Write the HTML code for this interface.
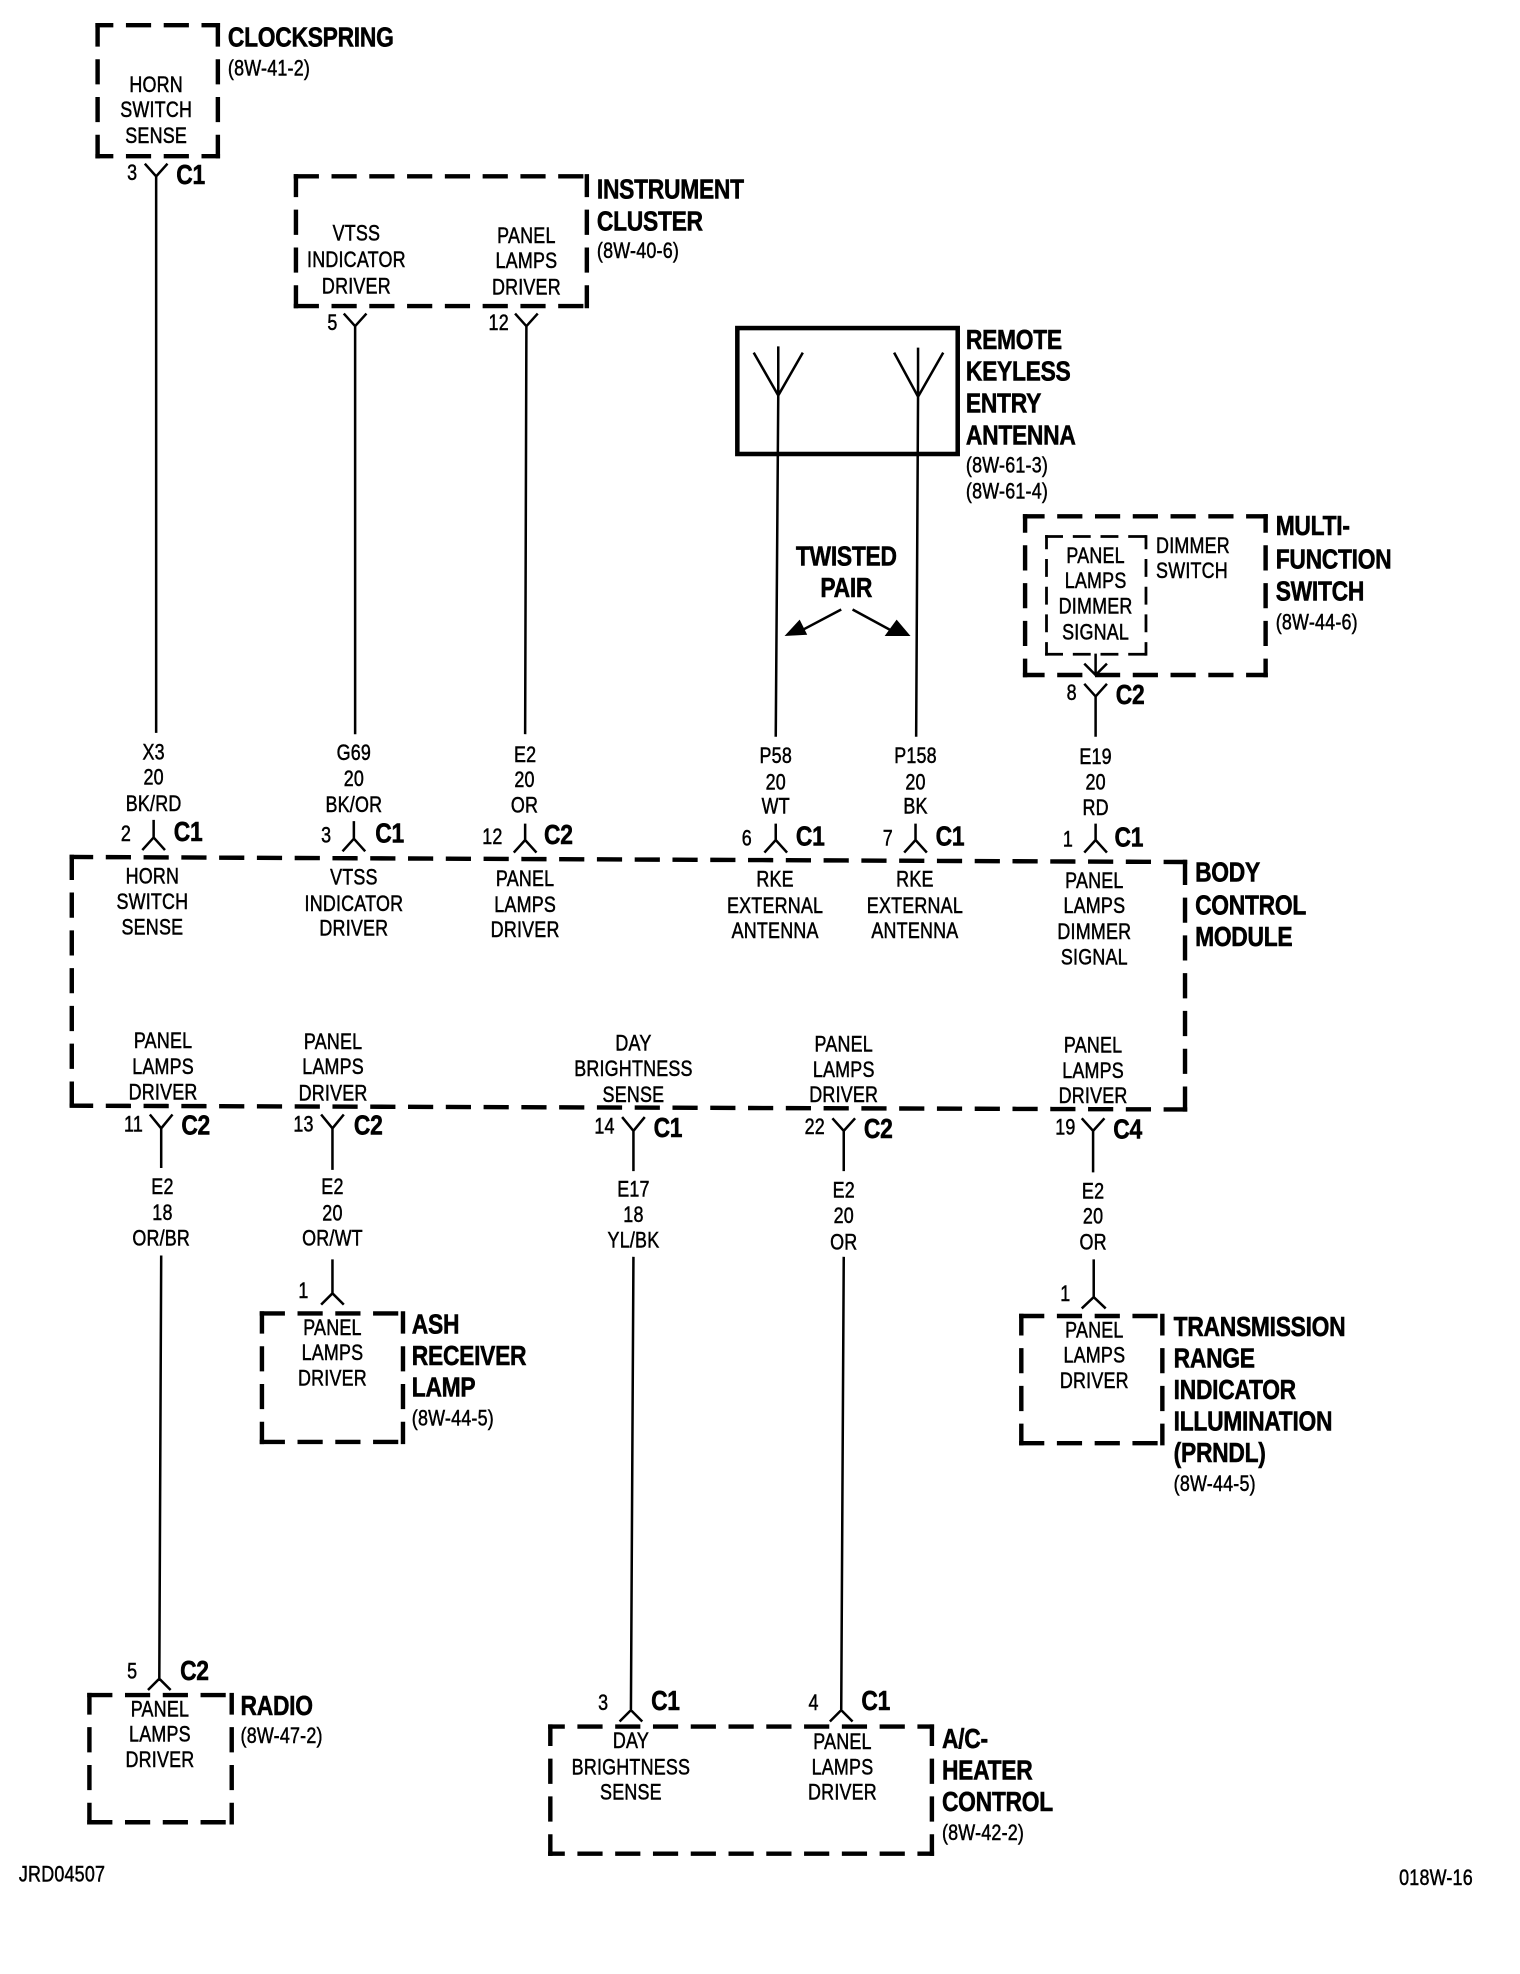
<!DOCTYPE html>
<html><head><meta charset="utf-8"><style>
html,body{margin:0;padding:0;background:#fff}
svg{display:block}
text{font-family:"Liberation Sans",sans-serif;fill:#000}
.r text{font-size:17.8px;stroke:#000;stroke-width:.4;letter-spacing:.2px}
.b text{font-size:22.4px;font-weight:bold;stroke:#000;stroke-width:.45;letter-spacing:-.28px}
.m text{text-anchor:middle}
.w{fill:none;stroke:#000;stroke-width:2}
.d{fill:none;stroke:#000;stroke-width:3.5;stroke-linecap:square;stroke-dasharray:16.5 13.5}
.i{fill:none;stroke:#000;stroke-width:2.2;stroke-linecap:square;stroke-dasharray:12 10}
</style></head><body>
<svg xmlns="http://www.w3.org/2000/svg" width="1520" height="1974" viewBox="0 0 1207 1567.5">
<rect width="1207" height="1567.5" fill="#fff"/>
<!-- dashed boxes -->
<path class="d" style="stroke-dashoffset:5.75" d="M77.5 20H173M77.5 124H173"/>
<path class="d" style="stroke-dashoffset:1.25" d="M77.5 20V124M173 20V124"/>
<path class="d" style="stroke-dashoffset:0" d="M235 140H466M235 243H466"/>
<path class="d" style="stroke-dashoffset:1.75" d="M235 140V243M466 140V243"/>
<path class="d" style="stroke-dashoffset:2.75" d="M814 410H1005M814 536H1005"/>
<path class="d" style="stroke-dashoffset:5.25" d="M814 410V536M1005 410V536"/>
<path class="d" style="stroke-dashoffset:1.25" d="M57 680.5L941 684.5M57 878L941 881"/>
<path class="d" style="stroke-dashoffset:0" d="M57 680.5V878M941 684.5V881"/>
<path class="d" style="stroke-dashoffset:0" d="M208 1043H320M208 1145H320"/>
<path class="d" style="stroke-dashoffset:2.25" d="M208 1043V1145M320 1043V1145"/>
<path class="d" style="stroke-dashoffset:0" d="M811 1045H923M811 1146H923"/>
<path class="d" style="stroke-dashoffset:2.75" d="M811 1045V1146M923 1045V1146"/>
<path class="d" style="stroke-dashoffset:0" d="M71 1346H184M71 1447H184"/>
<path class="d" style="stroke-dashoffset:2.75" d="M71 1346V1447M184 1346V1447"/>
<path class="d" style="stroke-dashoffset:6.75" d="M437 1371H740M437 1472H740"/>
<path class="d" style="stroke-dashoffset:2.75" d="M437 1371V1472M740 1371V1472"/>
<path class="i" style="stroke-dashoffset:0" d="M831 426H910M831 519.5H910"/>
<path class="i" style="stroke-dashoffset:3" d="M831 426V519.5M910 426V519.5"/>
<rect x="585.5" y="260.5" width="175" height="100" fill="none" stroke="#000" stroke-width="3.6"/>
<!-- wires and connectors -->
<path class="w" d="M115 130L124 140L133 130M124 140V582
M273 249L282 259L291 249M282 259V583
M409 249L418 259L427 249M418 259L417 583
M598.5 280L618 314L637.5 280M618 275V314L616 585
M710 280L729 315L749 280M729 276V315L727.5 585
M861 527L870 536L879 527M870 519V536
M861 543L870 553L879 543M870 553V585
M122 651V666M113 675L122 665L131 675
M281 652V667M272 676L281 666L290 676
M417 654V668M408 677L417 667L426 677
M616 654V668M607 677L616 667L625 677
M727 654V668M718 677L727 667L736 677
M870 654V668M861 677L870 667L879 677
M119 885L128 896L137 885M128 896V927.5
M255 885L264 896L273 885M264 896V929
M494 887L503 898L512 887M503 898V930
M661 888L670 898L679 888M670 898V930
M859 888L868 898L877 888M868 898V931
M128 997L126.5 1334M117.5 1342L126.5 1333L135.5 1342
M264 1000V1028M255 1036L264 1027L273 1036
M868.5 1000V1030M859 1039L868.5 1030L878 1039
M503 998L501 1358M492 1367L501 1358L510 1367
M670 998L668 1358M659 1367L668 1358L677 1367"/>
<!-- twisted pair arrows -->
<path d="M668 484L632 503" class="w"/><path d="M677 484L712 503" class="w"/>
<polygon points="623,505 635,492 641,504"/>
<polygon points="723,505 712,492 702.5,505"/>
<!-- centred regular labels -->
<g class="r m">
<text transform="translate(124 73) scale(.8 1)">HORN</text>
<text transform="translate(124 93) scale(.8 1)">SWITCH</text>
<text transform="translate(124 113.4) scale(.8 1)">SENSE</text>
<text transform="translate(283 191) scale(.8 1)">VTSS</text>
<text transform="translate(283 212) scale(.8 1)">INDICATOR</text>
<text transform="translate(283 233) scale(.8 1)">DRIVER</text>
<text transform="translate(418 193) scale(.8 1)">PANEL</text>
<text transform="translate(418 213) scale(.8 1)">LAMPS</text>
<text transform="translate(418 234) scale(.8 1)">DRIVER</text>
<text transform="translate(870 447) scale(.8 1)">PANEL</text>
<text transform="translate(870 467) scale(.8 1)">LAMPS</text>
<text transform="translate(870 487) scale(.8 1)">DIMMER</text>
<text transform="translate(870 507.7) scale(.8 1)">SIGNAL</text>
<text transform="translate(122 603) scale(.8 1)">X3</text>
<text transform="translate(122 623) scale(.8 1)">20</text>
<text transform="translate(122 644) scale(.8 1)">BK/RD</text>
<text transform="translate(281 603.5) scale(.8 1)">G69</text>
<text transform="translate(281 624) scale(.8 1)">20</text>
<text transform="translate(281 644.6) scale(.8 1)">BK/OR</text>
<text transform="translate(417 605) scale(.8 1)">E2</text>
<text transform="translate(416.5 625) scale(.8 1)">20</text>
<text transform="translate(416.5 645) scale(.8 1)">OR</text>
<text transform="translate(616 606) scale(.8 1)">P58</text>
<text transform="translate(616 627) scale(.8 1)">20</text>
<text transform="translate(616 646) scale(.8 1)">WT</text>
<text transform="translate(727 606) scale(.8 1)">P158</text>
<text transform="translate(727 627) scale(.8 1)">20</text>
<text transform="translate(727 646) scale(.8 1)">BK</text>
<text transform="translate(870 606.5) scale(.8 1)">E19</text>
<text transform="translate(870 627) scale(.8 1)">20</text>
<text transform="translate(870 647) scale(.8 1)">RD</text>
<text transform="translate(121 701.7) scale(.8 1)">HORN</text>
<text transform="translate(121 722) scale(.8 1)">SWITCH</text>
<text transform="translate(121 742) scale(.8 1)">SENSE</text>
<text transform="translate(281 702.5) scale(.8 1)">VTSS</text>
<text transform="translate(281 723.5) scale(.8 1)">INDICATOR</text>
<text transform="translate(281 743) scale(.8 1)">DRIVER</text>
<text transform="translate(417 703.6) scale(.8 1)">PANEL</text>
<text transform="translate(417 724) scale(.8 1)">LAMPS</text>
<text transform="translate(417 744) scale(.8 1)">DRIVER</text>
<text transform="translate(615.5 704) scale(.8 1)">RKE</text>
<text transform="translate(615.5 724.8) scale(.8 1)">EXTERNAL</text>
<text transform="translate(615.5 745) scale(.8 1)">ANTENNA</text>
<text transform="translate(726.5 704) scale(.8 1)">RKE</text>
<text transform="translate(726.5 724.8) scale(.8 1)">EXTERNAL</text>
<text transform="translate(726.5 745) scale(.8 1)">ANTENNA</text>
<text transform="translate(869 705) scale(.8 1)">PANEL</text>
<text transform="translate(869 725) scale(.8 1)">LAMPS</text>
<text transform="translate(869 745.5) scale(.8 1)">DIMMER</text>
<text transform="translate(869 766) scale(.8 1)">SIGNAL</text>
<text transform="translate(129.5 832) scale(.8 1)">PANEL</text>
<text transform="translate(129.5 852.8) scale(.8 1)">LAMPS</text>
<text transform="translate(129.5 873) scale(.8 1)">DRIVER</text>
<text transform="translate(264.5 833) scale(.8 1)">PANEL</text>
<text transform="translate(264.5 853) scale(.8 1)">LAMPS</text>
<text transform="translate(264.5 873.7) scale(.8 1)">DRIVER</text>
<text transform="translate(503 834) scale(.8 1)">DAY</text>
<text transform="translate(503 854.6) scale(.8 1)">BRIGHTNESS</text>
<text transform="translate(503 875) scale(.8 1)">SENSE</text>
<text transform="translate(670 835) scale(.8 1)">PANEL</text>
<text transform="translate(670 855.4) scale(.8 1)">LAMPS</text>
<text transform="translate(670 875) scale(.8 1)">DRIVER</text>
<text transform="translate(868 835.6) scale(.8 1)">PANEL</text>
<text transform="translate(868 856) scale(.8 1)">LAMPS</text>
<text transform="translate(868 876) scale(.8 1)">DRIVER</text>
<text transform="translate(129 948) scale(.8 1)">E2</text>
<text transform="translate(129 968.6) scale(.8 1)">18</text>
<text transform="translate(128 989) scale(.8 1)">OR/BR</text>
<text transform="translate(264 948) scale(.8 1)">E2</text>
<text transform="translate(264 969) scale(.8 1)">20</text>
<text transform="translate(264 989) scale(.8 1)">OR/WT</text>
<text transform="translate(503 950) scale(.8 1)">E17</text>
<text transform="translate(503 970.5) scale(.8 1)">18</text>
<text transform="translate(503 990.5) scale(.8 1)">YL/BK</text>
<text transform="translate(670 951) scale(.8 1)">E2</text>
<text transform="translate(670 971) scale(.8 1)">20</text>
<text transform="translate(670 992) scale(.8 1)">OR</text>
<text transform="translate(868 951.5) scale(.8 1)">E2</text>
<text transform="translate(868 971.5) scale(.8 1)">20</text>
<text transform="translate(868 992) scale(.8 1)">OR</text>
<text transform="translate(264 1060) scale(.8 1)">PANEL</text>
<text transform="translate(264 1080) scale(.8 1)">LAMPS</text>
<text transform="translate(264 1100) scale(.8 1)">DRIVER</text>
<text transform="translate(869 1062) scale(.8 1)">PANEL</text>
<text transform="translate(869 1082) scale(.8 1)">LAMPS</text>
<text transform="translate(869 1102) scale(.8 1)">DRIVER</text>
<text transform="translate(127 1363) scale(.8 1)">PANEL</text>
<text transform="translate(127 1383) scale(.8 1)">LAMPS</text>
<text transform="translate(127 1403) scale(.8 1)">DRIVER</text>
<text transform="translate(501 1388) scale(.8 1)">DAY</text>
<text transform="translate(501 1409) scale(.8 1)">BRIGHTNESS</text>
<text transform="translate(501 1429) scale(.8 1)">SENSE</text>
<text transform="translate(669 1389) scale(.8 1)">PANEL</text>
<text transform="translate(669 1409) scale(.8 1)">LAMPS</text>
<text transform="translate(669 1429) scale(.8 1)">DRIVER</text>
<!-- pin numbers -->
<text transform="translate(105 143) scale(.8 1)">3</text>
<text transform="translate(264 262) scale(.8 1)">5</text>
<text transform="translate(396 262) scale(.8 1)">12</text>
<text transform="translate(851 556) scale(.8 1)">8</text>
<text transform="translate(100 668) scale(.8 1)">2</text>
<text transform="translate(259 669) scale(.8 1)">3</text>
<text transform="translate(391 670) scale(.8 1)">12</text>
<text transform="translate(593 671.5) scale(.8 1)">6</text>
<text transform="translate(705 671.5) scale(.8 1)">7</text>
<text transform="translate(848 672) scale(.8 1)">1</text>
<text transform="translate(106 898.5) scale(.8 1)">11</text>
<text transform="translate(241 898.5) scale(.8 1)">13</text>
<text transform="translate(480 900) scale(.8 1)">14</text>
<text transform="translate(647 900.6) scale(.8 1)">22</text>
<text transform="translate(846 901) scale(.8 1)">19</text>
<text transform="translate(241 1030.6) scale(.8 1)">1</text>
<text transform="translate(846 1033) scale(.8 1)">1</text>
<text transform="translate(105 1333) scale(.8 1)">5</text>
<text transform="translate(479 1358) scale(.8 1)">3</text>
<text transform="translate(646 1358) scale(.8 1)">4</text>
</g>
<!-- left-aligned regular -->
<g class="r">
<text transform="translate(181 60) scale(.8 1)">(8W-41-2)</text>
<text transform="translate(474 205) scale(.8 1)">(8W-40-6)</text>
<text transform="translate(767 375) scale(.8 1)">(8W-61-3)</text>
<text transform="translate(767 396) scale(.8 1)">(8W-61-4)</text>
<text transform="translate(918 439) scale(.8 1)">DIMMER</text>
<text transform="translate(918 459) scale(.8 1)">SWITCH</text>
<text transform="translate(1013 499.7) scale(.8 1)">(8W-44-6)</text>
<text transform="translate(327 1132) scale(.8 1)">(8W-44-5)</text>
<text transform="translate(932 1184) scale(.8 1)">(8W-44-5)</text>
<text transform="translate(191 1384) scale(.8 1)">(8W-47-2)</text>
<text transform="translate(748 1461) scale(.8 1)">(8W-42-2)</text>
<text transform="translate(15 1494) scale(.8 1)">JRD04507</text>
<text transform="translate(1111 1497) scale(.8 1)">018W-16</text>
</g>
<!-- bold -->
<g class="b">
<text transform="translate(181 37) scale(.81 1)">CLOCKSPRING</text>
<text transform="translate(474 157.7) scale(.81 1)">INSTRUMENT</text>
<text transform="translate(474 183) scale(.81 1)">CLUSTER</text>
<text transform="translate(767 277) scale(.81 1)">REMOTE</text>
<text transform="translate(767 302) scale(.81 1)">KEYLESS</text>
<text transform="translate(767 327.6) scale(.81 1)">ENTRY</text>
<text transform="translate(767 353) scale(.81 1)">ANTENNA</text>
<text transform="translate(1013 425) scale(.81 1)">MULTI-</text>
<text transform="translate(1013 451.6) scale(.81 1)">FUNCTION</text>
<text transform="translate(1013 477) scale(.81 1)">SWITCH</text>
<text transform="translate(949 700) scale(.81 1)">BODY</text>
<text transform="translate(949 726) scale(.81 1)">CONTROL</text>
<text transform="translate(949 751) scale(.81 1)">MODULE</text>
<text transform="translate(327 1059) scale(.81 1)">ASH</text>
<text transform="translate(327 1084) scale(.81 1)">RECEIVER</text>
<text transform="translate(327 1109) scale(.81 1)">LAMP</text>
<text transform="translate(932 1061) scale(.81 1)">TRANSMISSION</text>
<text transform="translate(932 1086) scale(.81 1)">RANGE</text>
<text transform="translate(932 1111) scale(.81 1)">INDICATOR</text>
<text transform="translate(932 1136) scale(.81 1)">ILLUMINATION</text>
<text transform="translate(932 1161) scale(.81 1)">(PRNDL)</text>
<text transform="translate(191 1362) scale(.81 1)">RADIO</text>
<text transform="translate(748 1388) scale(.81 1)">A/C-</text>
<text transform="translate(748 1413) scale(.81 1)">HEATER</text>
<text transform="translate(748 1438) scale(.81 1)">CONTROL</text>
<text transform="translate(140 146) scale(.81 1)">C1</text>
<text transform="translate(886 559) scale(.81 1)">C2</text>
<text transform="translate(138 668) scale(.81 1)">C1</text>
<text transform="translate(298 669) scale(.81 1)">C1</text>
<text transform="translate(432 670) scale(.81 1)">C2</text>
<text transform="translate(632 671.5) scale(.81 1)">C1</text>
<text transform="translate(743 671.5) scale(.81 1)">C1</text>
<text transform="translate(885 672) scale(.81 1)">C1</text>
<text transform="translate(144 901) scale(.81 1)">C2</text>
<text transform="translate(281 901) scale(.81 1)">C2</text>
<text transform="translate(519 903) scale(.81 1)">C1</text>
<text transform="translate(686 903.7) scale(.81 1)">C2</text>
<text transform="translate(884 904) scale(.81 1)">C4</text>
<text transform="translate(143 1334) scale(.81 1)">C2</text>
<text transform="translate(517 1358) scale(.81 1)">C1</text>
<text transform="translate(684 1358) scale(.81 1)">C1</text>
</g>
<g class="b m">
<text transform="translate(672 449) scale(.81 1)">TWISTED</text>
<text transform="translate(672 474) scale(.81 1)">PAIR</text>
</g>
</svg>
</body></html>
